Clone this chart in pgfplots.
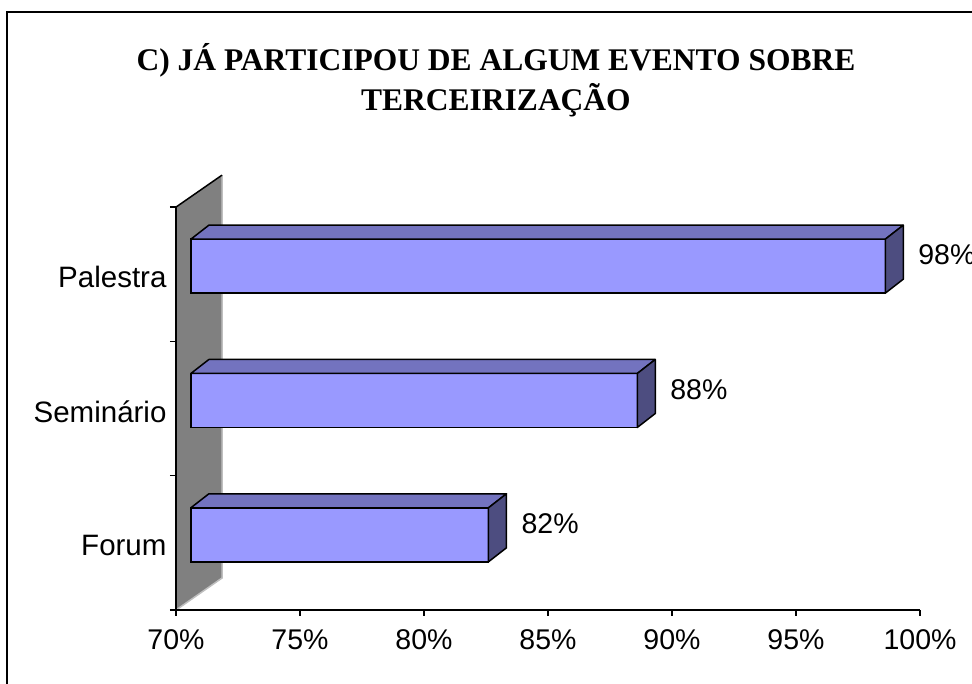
\documentclass[border=0pt]{standalone}
\usepackage{pgfplots}
\pgfplotsset{compat=1.18}
\usepackage{pgfplotstable}
\usepackage{fontspec}
\setmainfont{Liberation Sans}
\newfontfamily\titlefont{Liberation Serif}
\definecolor{barfront}{RGB}{153,153,255}
\definecolor{bartop}{RGB}{115,115,191}
\definecolor{barside}{RGB}{77,77,128}
\definecolor{wallgray}{RGB}{128,128,128}
\pgfdeclareplotmark{emptymark}{}

\pgfplotstableread{
pos v
0 82
1 88
2 98
}\datatable

\begin{document}
\begin{tikzpicture}[x=1pt,y=1pt]
\path[use as bounding box] (0,0) rectangle (972,684);
\clip (0,0) rectangle (972,684);
\draw[line width=2pt] (7,-20) rectangle (1000,672);
\node[font=\titlefont\bfseries\fontsize{31.5}{36}\selectfont, anchor=base] at (496,613) {C) JÁ PARTICIPOU DE ALGUM EVENTO SOBRE};
\node[font=\titlefont\bfseries\fontsize{31.5}{36}\selectfont, anchor=base] at (496,573) {TERCEIRIZAÇÃO};
\begin{axis}[
  at={(176pt,74pt)}, anchor=south west,
  x=24.8pt, y=134.3pt,
  xmin=-0.6, xmax=29.4, ymin=-0.5, ymax=2.5,
  enlargelimits=false, clip=false, axis on top,
  axis lines*=left,
  axis line style={line width=1.5pt, black},
  xtick={-0.6,4.4,9.4,14.4,19.4,24.4,29.4},
  xticklabels={70\%,75\%,80\%,85\%,90\%,95\%,100\%},
  ytick={-0.5,0.5,1.5,2.5},
  yticklabels={Forum,Seminário,Palestra,{}},
  yticklabel style={yshift=64pt, font=\fontsize{29.5}{32}\selectfont},
  xticklabel style={yshift=-10pt, font=\fontsize{28.5}{32}\selectfont},
  tick align=outside,
  major tick length=6pt,
  tick style={line width=1.5pt, black},
  /pgf/number format/assume math mode=true,
]
% side wall
\addplot[fill=wallgray, draw=none] coordinates {(-0.6,-0.5) (1.255,-0.262) (1.255,2.738) (-0.6,2.5)} -- cycle;
\addplot[black!25, line width=1.5pt] coordinates {(1.255,2.738) (1.255,-0.262) (-0.6,-0.5)};
\addplot[black, line width=1.5pt] coordinates {(-0.6,2.5) (1.255,2.738)};
% front faces of bars
\addplot[xbar, bar width=54pt, bar shift=0pt, fill=barfront, draw=black, line width=1.5pt,
  point meta=explicit,
  nodes near coords={\pgfmathprintnumber{\pgfplotspointmeta}\%},
  every node near coord/.append style={font=\fontsize{28.5}{32}\selectfont, anchor=west, xshift=29pt, yshift=11pt, black}]
  table[x expr=\thisrow{v}-70, y expr=\thisrow{pos}+0.06, meta=v] {\datatable};
% top and side faces of bars
\addplot[scatter, only marks, mark=emptymark,
  visualization depends on={\thisrow{v}-70 \as \len},
  scatter/@pre marker code/.code={%
    \pgfmathsetmacro\L{\len*24.8}%
    \pgfmathsetmacro\Lb{18-\L}%
    \filldraw[fill=bartop, draw=black, line width=1.5pt, line join=round]
      (-\L pt,27pt) -- (0pt,27pt) -- (18pt,41pt) -- (\Lb pt,41pt) -- cycle;
    \filldraw[fill=barside, draw=black, line width=1.5pt, line join=round]
      (0pt,-27pt) -- (18pt,-13pt) -- (18pt,41pt) -- (0pt,27pt) -- cycle;
  },
  scatter/@post marker code/.code={}]
  table[x expr=\thisrow{v}-70, y expr=\thisrow{pos}+0.06] {\datatable};
\end{axis}
\end{tikzpicture}
\end{document}
